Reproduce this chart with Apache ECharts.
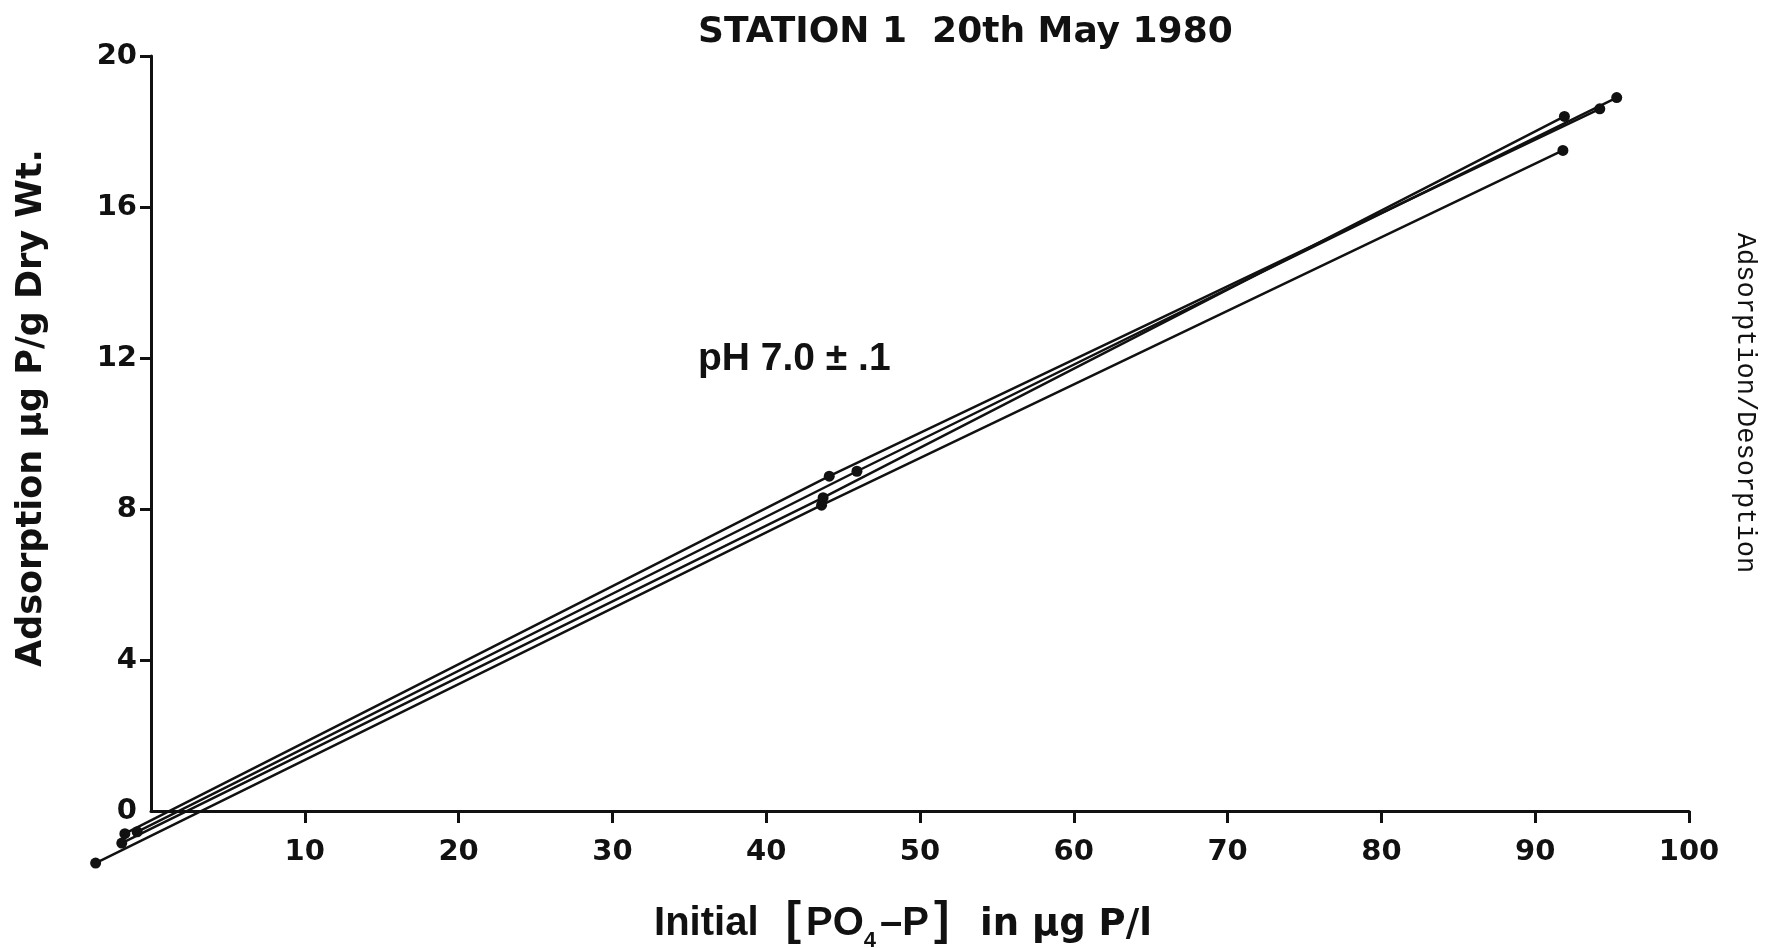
<!DOCTYPE html>
<html>
<head>
<meta charset="utf-8">
<style>
  html, body { margin: 0; padding: 0; background: #ffffff; }
  #chart { width: 1766px; height: 948px; }
</style>
<script src="https://cdn.jsdelivr.net/npm/echarts@6/dist/echarts.min.js"></script>
</head>
<body>
<div id="chart"></div>
<script>
// Phosphate adsorption runs, station 1 (20 May 1980): [initial PO4-P (ug P/l), adsorption (ug P/g dry wt)]
const runA = [[-0.9, -0.55], [45.9, 9.0], [95.3, 18.9]];
const runB = [[-1.7, -0.6], [44.1, 8.87], [94.2, 18.6]];
const runC = [[-1.9, -0.85], [43.7, 8.3], [91.9, 18.4]];
const runD = [[-3.6, -1.38], [43.6, 8.1], [91.8, 17.5]];
const runs = [runA, runB, runC, runD];

// axis ranges drawn as the frame
const xAxisSpan = [0, 100];
const yAxisSpan = [0, 20];
// plotting window for the runs, a little wider so the sub-zero readings show
const xWindow = [-4, 100];
const yWindow = [-1.6, 20];

const xTickValues = [10, 20, 30, 40, 50, 60, 70, 80, 90, 100];
const yTickValues = [4, 8, 12, 16, 20];
const yLabelValues = [0, 4, 8, 12, 16, 20];

const titleText = 'STATION 1  20th May 1980';
const phText = 'pH 7.0 \u00b1 .1';
const sideText = 'Adsorption/Desorption';
const yName = 'Adsorption \u03bcg P/g Dry Wt.';

const SANS = '"Liberation Sans", Arial, Helvetica, sans-serif';
const WIDE = '"DejaVu Sans", "Liberation Sans", sans-serif';
const INK = '#111111';

// frame geometry: pixels per unit are shared by both grids
const W = 1766, H = 948;
const frame = { left: 151, right: 77, top: 56, bottom: 137 };
const pxPerX = (W - frame.left - frame.right) / (xAxisSpan[1] - xAxisSpan[0]);
const pxPerY = (H - frame.top - frame.bottom) / (yAxisSpan[1] - yAxisSpan[0]);
const wideGrid = {
  left: frame.left - (xAxisSpan[0] - xWindow[0]) * pxPerX,
  right: frame.right,
  top: frame.top,
  bottom: frame.bottom - (yAxisSpan[0] - yWindow[0]) * pxPerY
};

const chart = echarts.init(document.getElementById('chart'), null, { renderer: 'canvas' });

const labelFont = { color: INK, fontFamily: WIDE, fontWeight: 'bold', fontSize: 29 };

chart.setOption({
  backgroundColor: '#ffffff',
  animation: false,
  grid: [
    Object.assign({ containLabel: false, outerBoundsMode: 'none' }, frame),
    Object.assign({ containLabel: false, outerBoundsMode: 'none' }, wideGrid)
  ],
  xAxis: [
    {
      gridIndex: 0,
      type: 'value',
      min: xAxisSpan[0],
      max: xAxisSpan[1],
      splitLine: { show: false },
      axisLine: { show: true, lineStyle: { color: INK, width: 3 } },
      axisTick: { show: true, length: 12, lineStyle: { color: INK, width: 3 }, customValues: xTickValues },
      axisLabel: Object.assign({ customValues: xTickValues, margin: 27 }, labelFont)
    },
    { gridIndex: 1, type: 'value', min: xWindow[0], max: xWindow[1], show: false }
  ],
  yAxis: [
    {
      gridIndex: 0,
      type: 'value',
      min: yAxisSpan[0],
      max: yAxisSpan[1],
      splitLine: { show: false },
      axisLine: { show: true, lineStyle: { color: INK, width: 3 } },
      axisTick: { show: true, length: 11, lineStyle: { color: INK, width: 3 }, customValues: yTickValues },
      axisLabel: Object.assign({ customValues: yLabelValues, margin: 14 }, labelFont)
    },
    { gridIndex: 1, type: 'value', min: yWindow[0], max: yWindow[1], show: false }
  ],
  graphic: [
    {
      type: 'text',
      left: 698,
      top: 15,
      style: { text: titleText, fill: INK, font: 'bold 36px ' + WIDE }
    },
    {
      type: 'text',
      left: 698,
      top: 340,
      style: { text: phText, fill: INK, font: 'bold 39px ' + SANS }
    },
    {
      type: 'text',
      x: 32,
      y: 408,
      rotation: Math.PI / 2,
      style: {
        text: yName,
        fill: INK,
        font: 'bold 35px ' + WIDE,
        align: 'center',
        verticalAlign: 'middle'
      }
    },
    {
      type: 'text',
      x: 903,
      y: 921,
      style: {
        text: '{a|Initial  }{b|[}{a|PO}{s|4}{a|\u2013P}{b|]}{c|  in \u03bcg P/l}',
        align: 'center',
        verticalAlign: 'middle',
        rich: {
          a: { font: 'bold 40px ' + SANS, fill: INK, lineHeight: 46, verticalAlign: 'bottom' },
          b: { font: 'bold 46px ' + SANS, fill: INK, lineHeight: 46, verticalAlign: 'bottom', padding: [0, 5, 0, 5] },
          s: { font: 'bold 22px ' + SANS, fill: INK, lineHeight: 46, verticalAlign: 'bottom', padding: [0, 4, -8, 0] },
          c: { font: 'bold 37px ' + WIDE, fill: INK, lineHeight: 46, verticalAlign: 'bottom' }
        }
      }
    },
    {
      type: 'text',
      x: 1745,
      y: 403,
      rotation: -Math.PI / 2,
      style: {
        text: sideText,
        fill: INK,
        font: '27px "Liberation Mono", "DejaVu Sans Mono", monospace',
        align: 'center',
        verticalAlign: 'middle'
      }
    }
  ],
  series: runs.map(function (d, i) {
    return {
      name: 'run' + (i + 1),
      type: 'line',
      xAxisIndex: 1,
      yAxisIndex: 1,
      data: d,
      clip: false,
      symbol: 'circle',
      symbolSize: 11,
      showSymbol: true,
      lineStyle: { color: INK, width: 2.5 },
      itemStyle: { color: INK },
      emphasis: { disabled: true },
      z: 3
    };
  })
});
</script>
</body>
</html>
